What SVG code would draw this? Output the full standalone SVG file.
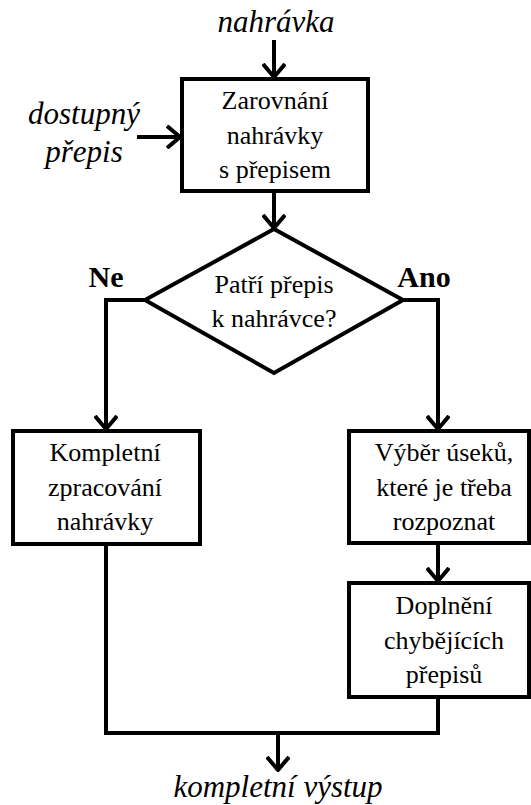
<svg xmlns="http://www.w3.org/2000/svg" width="531" height="805" viewBox="0 0 531 805" font-family="Times New Roman">
<defs>
<marker id="arr" viewBox="0 0 16 24" refX="14" refY="12" markerWidth="16" markerHeight="24" markerUnits="userSpaceOnUse" orient="auto">
<path d="M1,1 L14,12 L1,23" fill="none" stroke="#000" stroke-width="4"/>
</marker>
</defs>
<rect width="531" height="805" fill="#fff"/>
<g id="connectors" fill="none" stroke="#000" stroke-width="4">
<line x1="274" y1="40" x2="274" y2="77" marker-end="url(#arr)"/>
<line x1="137" y1="137" x2="180" y2="137" marker-end="url(#arr)"/>
<line x1="274" y1="193" x2="274" y2="228" marker-end="url(#arr)"/>
<polyline points="144,300 106,300 106,429" marker-end="url(#arr)"/>
<polyline points="404,300 438,300 438,429" marker-end="url(#arr)"/>
<line x1="438" y1="545" x2="438" y2="581" marker-end="url(#arr)"/>
<polyline points="106,546 106,733 440,733"/>
<line x1="438" y1="699" x2="438" y2="735"/>
<line x1="278" y1="733" x2="278" y2="770" marker-end="url(#arr)"/>
</g>
<g id="in-nahravka"><text x="276" y="32" font-size="31" font-style="italic" text-anchor="middle" font-family="Times New Roman">nahrávka</text></g>
<g id="in-prepis"><text x="84" y="124" font-size="31" font-style="italic" text-anchor="middle" font-family="Times New Roman">dostupný</text><text x="84" y="162" font-size="31" font-style="italic" text-anchor="middle" font-family="Times New Roman">přepis</text></g>
<g id="zarovnani">
<rect x="182" y="79" width="186" height="112" fill="#fff" stroke="#000" stroke-width="4"/>
<text x="275" y="109" font-size="26" text-anchor="middle" font-family="Times New Roman">Zarovnání</text>
<text x="275" y="144" font-size="26" text-anchor="middle" font-family="Times New Roman">nahrávky</text>
<text x="275" y="178" font-size="26" text-anchor="middle" font-family="Times New Roman">s přepisem</text>
</g>
<g id="decision">
<polygon points="274,229 403,300 274,373 145,300" fill="#fff" stroke="#000" stroke-width="4"/>
<text x="274" y="293" font-size="26" text-anchor="middle" font-family="Times New Roman">Patří přepis</text>
<text x="274" y="327" font-size="26" text-anchor="middle" font-family="Times New Roman">k nahrávce?</text>
</g>
<g id="label-ne"><text x="106" y="287" font-size="30" font-weight="bold" text-anchor="middle" font-family="Times New Roman">Ne</text></g>
<g id="label-ano"><text x="424" y="287" font-size="30" font-weight="bold" text-anchor="middle" font-family="Times New Roman">Ano</text></g>
<g id="kompletni">
<rect x="13" y="431" width="187" height="113" fill="#fff" stroke="#000" stroke-width="4"/>
<text x="105" y="461" font-size="26" text-anchor="middle" font-family="Times New Roman">Kompletní</text>
<text x="105" y="496" font-size="26" text-anchor="middle" font-family="Times New Roman">zpracování</text>
<text x="105" y="530" font-size="26" text-anchor="middle" font-family="Times New Roman">nahrávky</text>
</g>
<g id="vyber">
<rect x="349" y="431" width="180" height="112" fill="#fff" stroke="#000" stroke-width="4"/>
<text x="444" y="461" font-size="26" text-anchor="middle" font-family="Times New Roman">Výběr úseků,</text>
<text x="444" y="496" font-size="26" text-anchor="middle" font-family="Times New Roman">které je třeba</text>
<text x="444" y="530" font-size="26" text-anchor="middle" font-family="Times New Roman">rozpoznat</text>
</g>
<g id="doplneni">
<rect x="349" y="583" width="180" height="114" fill="#fff" stroke="#000" stroke-width="4"/>
<text x="444" y="614" font-size="26" text-anchor="middle" font-family="Times New Roman">Doplnění</text>
<text x="444" y="649" font-size="26" text-anchor="middle" font-family="Times New Roman">chybějících</text>
<text x="444" y="683" font-size="26" text-anchor="middle" font-family="Times New Roman">přepisů</text>
</g>
<g id="out-vystup"><text x="278" y="797" font-size="31" font-style="italic" text-anchor="middle" font-family="Times New Roman">kompletní výstup</text></g>
</svg>
